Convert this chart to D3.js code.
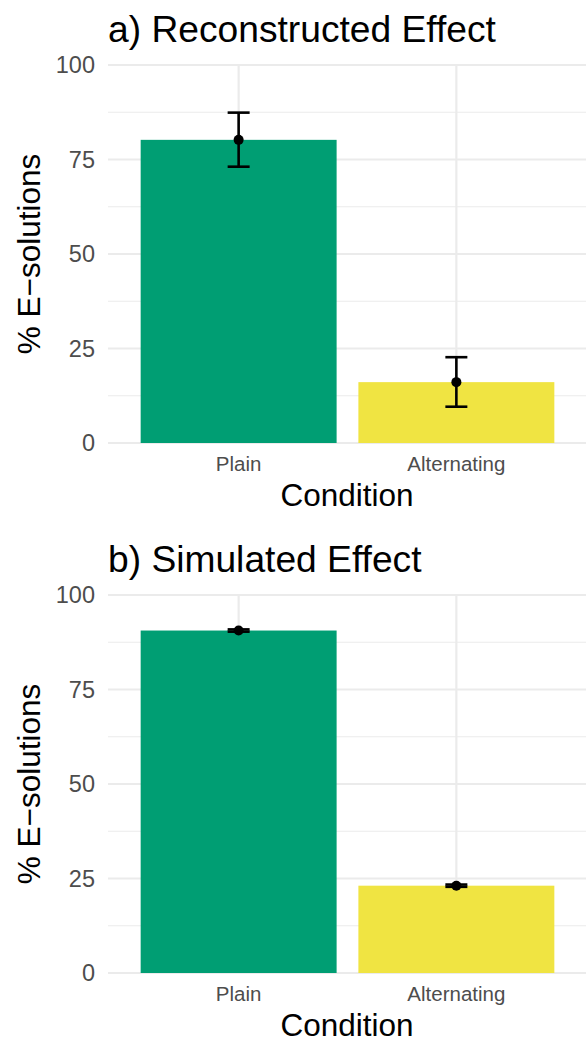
<!DOCTYPE html>
<meta charset="utf-8">
<style>
  body { margin: 0; background: #fff; }
  svg text { font-family: "Liberation Sans", Arial, sans-serif; }
  .grid line { stroke: #ebebeb; }
</style>
<script src="https://d3js.org/d3.v7.min.js"></script>
<div id="chart"></div>
<script>
  // data
  var conditions = ["Plain", "Alternating"];
  var barColors = ["#009E73", "#F0E442"];
  var yTicks = [0, 25, 50, 75, 100];
  var yMinor = [12.5, 37.5, 62.5, 87.5];

  var reconMean = [80.2, 16.1];
  var reconLow  = [73.1, 9.6];
  var reconHigh = [87.4, 22.7];

  var simMean = [90.6, 23.1];
  var simLow  = [90.3, 22.8];
  var simHigh = [90.9, 23.4];

  var width = 586, height = 1040;
  var left = 108, right = 587;

  var svg = d3.select("#chart")
    .append("svg")
      .attr("width", width)
      .attr("height", height);

  var x = d3.scaleBand()
      .domain(conditions)
      .range([left, right])
      .paddingInner(0.1)
      .paddingOuter(0.15);

  function drawPanel(top, title, means, lows, highs) {
    var g = svg.append("g");
    var y = d3.scaleLinear()
        .domain([0, 100])
        .range([top + 378, top]);

    // minor grid
    g.append("g").attr("class", "grid")
      .selectAll("line").data(yMinor).enter().append("line")
        .attr("x1", left).attr("x2", width)
        .attr("y1", function(d) { return y(d); })
        .attr("y2", function(d) { return y(d); })
        .attr("stroke-width", 1.1);

    // major grid
    g.append("g").attr("class", "grid")
      .selectAll("line").data(yTicks).enter().append("line")
        .attr("x1", left).attr("x2", width)
        .attr("y1", function(d) { return y(d); })
        .attr("y2", function(d) { return y(d); })
        .attr("stroke-width", 2.2);

    g.append("g").attr("class", "grid")
      .selectAll("line").data(conditions).enter().append("line")
        .attr("x1", function(d) { return x(d) + x.bandwidth() / 2; })
        .attr("x2", function(d) { return x(d) + x.bandwidth() / 2; })
        .attr("y1", y(100)).attr("y2", y(0))
        .attr("stroke-width", 2.2);

    // bars
    g.selectAll(".bar")
      .data(conditions)
      .enter().append("rect")
        .attr("class", "bar")
        .attr("x", function(d) { return x(d); })
        .attr("width", x.bandwidth())
        .attr("y", function(d, i) { return y(means[i]); })
        .attr("height", function(d, i) { return y(0) - y(means[i]); })
        .attr("fill", function(d, i) { return barColors[i]; });

    // error bars
    var cap = 11;
    var eb = g.selectAll(".err")
      .data(conditions)
      .enter().append("g")
        .attr("class", "err")
        .attr("stroke", "#000")
        .attr("stroke-width", 2.6);
    eb.append("line")
      .attr("x1", function(d) { return x(d) + x.bandwidth() / 2; })
      .attr("x2", function(d) { return x(d) + x.bandwidth() / 2; })
      .attr("y1", function(d, i) { return y(lows[i]); })
      .attr("y2", function(d, i) { return y(highs[i]); });
    eb.append("line")
      .attr("x1", function(d) { return x(d) + x.bandwidth() / 2 - cap; })
      .attr("x2", function(d) { return x(d) + x.bandwidth() / 2 + cap; })
      .attr("y1", function(d, i) { return y(lows[i]); })
      .attr("y2", function(d, i) { return y(lows[i]); });
    eb.append("line")
      .attr("x1", function(d) { return x(d) + x.bandwidth() / 2 - cap; })
      .attr("x2", function(d) { return x(d) + x.bandwidth() / 2 + cap; })
      .attr("y1", function(d, i) { return y(highs[i]); })
      .attr("y2", function(d, i) { return y(highs[i]); });
    g.selectAll(".pt")
      .data(conditions)
      .enter().append("circle")
        .attr("cx", function(d) { return x(d) + x.bandwidth() / 2; })
        .attr("cy", function(d, i) { return y(means[i]); })
        .attr("r", 5)
        .attr("fill", "#000");

    // y axis labels
    var yAxis = g.append("g")
      .attr("transform", "translate(" + (left - 13) + ",0)")
      .call(d3.axisLeft(y).tickValues(yTicks).tickSize(0).tickPadding(0));
    yAxis.select(".domain").remove();
    yAxis.selectAll("text")
      .attr("fill", "#4d4d4d")
      .style("font-size", "23.5px");

    // x axis labels
    var xAxis = g.append("g")
      .attr("transform", "translate(0," + (y(0) + 13) + ")")
      .call(d3.axisBottom(x).tickSize(0).tickPadding(0));
    xAxis.select(".domain").remove();
    xAxis.selectAll("text")
      .attr("fill", "#4d4d4d")
      .attr("dy", "0.71em")
      .style("font-size", "20.5px");

    // titles
    g.append("text")
      .attr("x", left)
      .attr("y", top - 23)
      .style("font-size", "37.2px")
      .text(title);

    g.append("text")
      .attr("x", (left + width) / 2)
      .attr("y", y(0) + 63)
      .attr("text-anchor", "middle")
      .style("font-size", "31.5px")
      .text("Condition");

    g.append("text")
      .attr("transform", "translate(40," + (top + 189) + ") rotate(-90)")
      .attr("text-anchor", "middle")
      .style("font-size", "31.5px")
      .text("% E\u2212solutions");
  }

  drawPanel(65, "a) Reconstructed Effect", reconMean, reconLow, reconHigh);
  drawPanel(595, "b) Simulated Effect", simMean, simLow, simHigh);
</script>
